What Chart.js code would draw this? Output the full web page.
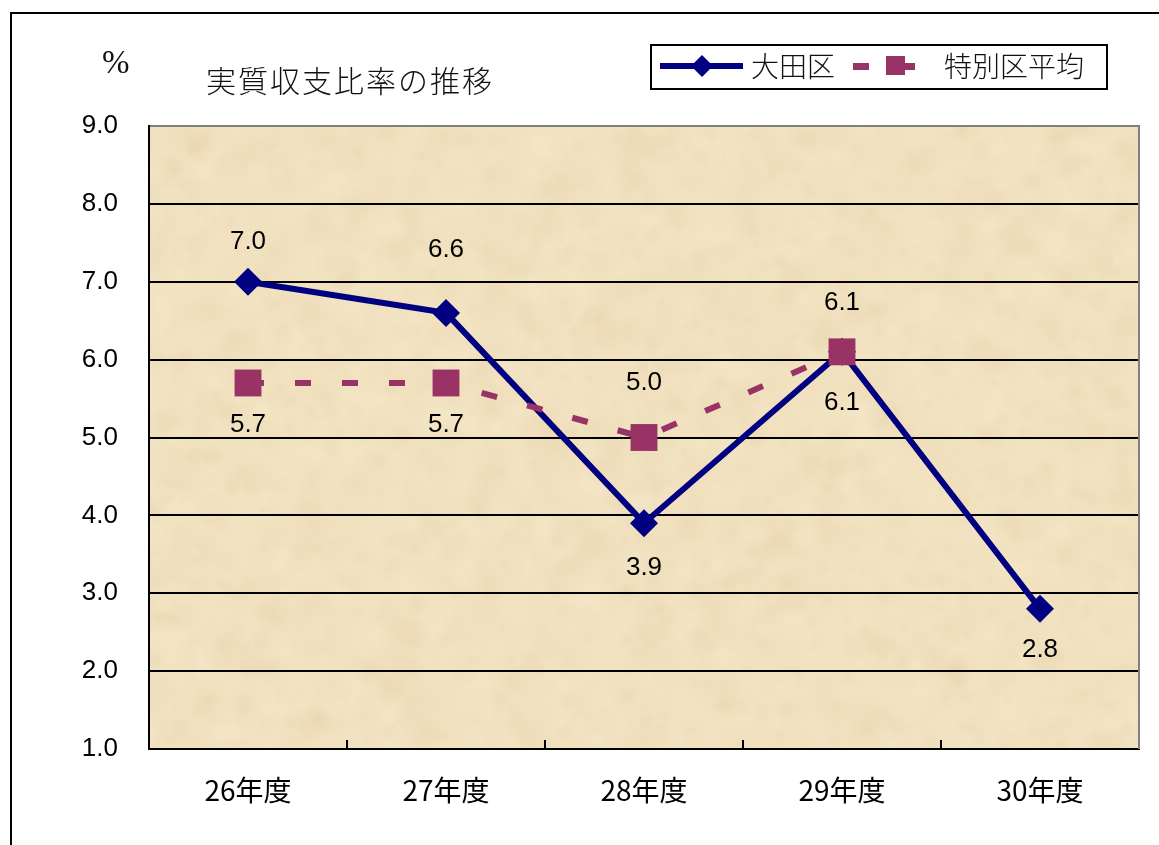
<!DOCTYPE html>
<html>
<head>
<meta charset="utf-8">
<title>実質収支比率の推移</title>
<script src="https://cdn.jsdelivr.net/npm/chart.js@4.4.1/dist/chart.umd.min.js"></script>
<style>
  html, body { margin: 0; padding: 0; background: #fff; overflow: hidden; }
  #wrap { position: relative; width: 1159px; height: 845px; }
  canvas { position: absolute; left: 0; top: 0; }
</style>
</head>
<body>
<div id="wrap"><canvas id="c" width="1159" height="845"></canvas></div>
<script>
// ---- data ----
const categories = ['26年度', '27年度', '28年度', '29年度', '30年度'];
const otaValues = [7.0, 6.6, 3.9, 6.1, 2.8];
const tokubetsukuValues = [5.7, 5.7, 5.0, 6.1];
const seriesNames = ['大田区', '特別区平均'];
const yTickMin = 1.0;
const yTickMax = 9.0;
const yTickStep = 1.0;
const titleText = '実質収支比率の推移';
const unitText = '%';

// ---- label placement (pixel offsets from each point) ----
const otaLabelOffsets = [-40, -63, 45, -49, 41];
const tokuLabelOffsets = [42, 42, -55, 51];

const NAVY = '#000080';
const PLUM = '#993366';
const NUM_FONT = '"Liberation Sans", Arial, sans-serif';
const JP_FONT = '"Noto Sans CJK JP", "Noto Sans", sans-serif';

// parchment texture for the plot area
function makeParchment(w, h) {
  const cv = document.createElement('canvas');
  cv.width = w; cv.height = h;
  const g = cv.getContext('2d');
  g.fillStyle = '#F1E1BF';
  g.fillRect(0, 0, w, h);
  let s = 1234567;
  const rnd = () => { s = (s * 1103515245 + 12345) & 0x7fffffff; return s / 0x7fffffff; };
  for (let i = 0; i < 5000; i++) {
    const x = rnd() * w, y = rnd() * h;
    const r = 4 + rnd() * 20;
    const light = rnd() < 0.6;
    const a = 0.04 + rnd() * 0.09;
    const grad = g.createRadialGradient(x, y, 0, x, y, r);
    const c = light ? '251,240,212' : '218,194,150';
    grad.addColorStop(0, 'rgba(' + c + ',' + a + ')');
    grad.addColorStop(1, 'rgba(' + c + ',0)');
    g.fillStyle = grad;
    g.beginPath();
    g.ellipse(x, y, r * (0.8 + rnd() * 0.8), r * (0.5 + rnd() * 0.6), rnd() * Math.PI, 0, Math.PI * 2);
    g.fill();
  }
  return cv;
}

const decorPlugin = {
  id: 'decor',
  beforeDraw(chart) {
    const { ctx, chartArea: a } = chart;
    ctx.save();
    ctx.fillStyle = '#fff';
    ctx.fillRect(0, 0, chart.width, chart.height);
    // outer frame
    ctx.strokeStyle = '#000';
    ctx.lineWidth = 2;
    ctx.strokeRect(11, 13, chart.width + 20, chart.height + 20);
    // plot background
    if (!chart.$parch) chart.$parch = makeParchment(Math.ceil(a.right - a.left), Math.ceil(a.bottom - a.top));
    ctx.drawImage(chart.$parch, a.left, a.top);
    ctx.restore();
  },
  beforeDatasetsDraw(chart) {
    const { ctx, chartArea: a } = chart;
    const xs = chart.scales.x;
    ctx.save();
    // right edge of plot
    ctx.strokeStyle = '#808080';
    ctx.lineWidth = 2;
    ctx.beginPath();
    ctx.moveTo(a.right, a.top - 1);
    ctx.lineTo(a.right, a.bottom);
    ctx.stroke();
    // category separators on the x axis, pointing inward
    ctx.strokeStyle = '#000';
    ctx.lineWidth = 2;
    for (let i = 0; i < categories.length - 1; i++) {
      const xm = Math.round((xs.getPixelForValue(i) + xs.getPixelForValue(i + 1)) / 2);
      ctx.beginPath();
      ctx.moveTo(xm, a.bottom - 9);
      ctx.lineTo(xm, a.bottom);
      ctx.stroke();
    }
    ctx.restore();
  },
  afterDatasetsDraw(chart) {
    const { ctx } = chart;
    ctx.save();
    ctx.fillStyle = '#000';
    ctx.font = '26px ' + NUM_FONT;
    ctx.textAlign = 'center';
    ctx.textBaseline = 'middle';
    const offs = [otaLabelOffsets, tokuLabelOffsets];
    const vals = [otaValues, tokubetsukuValues];
    for (let d = 0; d < 2; d++) {
      const meta = chart.getDatasetMeta(d);
      meta.data.forEach((pt, j) => {
        ctx.fillText(vals[d][j].toFixed(1), pt.x, pt.y + offs[d][j]);
      });
    }
    ctx.restore();
  },
  afterDraw(chart) {
    const { ctx } = chart;
    ctx.save();
    // unit and title
    ctx.fillStyle = '#111';
    ctx.textBaseline = 'middle';
    ctx.textAlign = 'left';
    ctx.font = '33px "Liberation Serif", "DejaVu Serif", serif';
    ctx.fillText(unitText, 102, 64);
    ctx.font = '300 30px ' + JP_FONT;
    ctx.letterSpacing = '2px';
    ctx.fillText(titleText, 206, 81);
    ctx.letterSpacing = '0px';

    // legend box
    ctx.strokeStyle = '#000';
    ctx.lineWidth = 2;
    ctx.fillStyle = '#fff';
    ctx.fillRect(651, 45, 456, 44);
    ctx.strokeRect(651, 45, 456, 44);
    const ly = 66;
    // 大田区 sample
    ctx.strokeStyle = NAVY;
    ctx.lineWidth = 6;
    ctx.beginPath();
    ctx.moveTo(660, ly); ctx.lineTo(743, ly);
    ctx.stroke();
    ctx.fillStyle = NAVY;
    ctx.beginPath();
    ctx.moveTo(702, ly - 11); ctx.lineTo(713, ly); ctx.lineTo(702, ly + 11); ctx.lineTo(691, ly);
    ctx.closePath(); ctx.fill();
    // 特別区平均 sample
    ctx.fillStyle = PLUM;
    ctx.fillRect(853, ly - 3, 16, 7);
    ctx.fillRect(886, ly - 10, 19, 19);
    ctx.fillRect(905, ly - 3, 10, 7);
    // legend text
    ctx.fillStyle = '#111';
    ctx.font = '300 28px ' + JP_FONT;
    ctx.textAlign = 'left';
    ctx.fillText(seriesNames[0], 751, ly);
    ctx.fillText(seriesNames[1], 944, ly);
    ctx.restore();
  }
};

new Chart(document.getElementById('c'), {
  type: 'line',
  data: {
    labels: categories,
    datasets: [
      {
        label: seriesNames[0],
        data: otaValues,
        borderColor: NAVY,
        backgroundColor: NAVY,
        borderWidth: 6,
        tension: 0,
        fill: false,
        pointStyle: 'rectRot',
        pointRadius: 14,
        pointBorderWidth: 0,
        pointBackgroundColor: NAVY,
        order: 1
      },
      {
        label: seriesNames[1],
        data: tokubetsukuValues,
        borderColor: PLUM,
        backgroundColor: PLUM,
        borderWidth: 6,
        borderDash: [16, 31],
        borderCapStyle: 'butt',
        tension: 0,
        fill: false,
        pointStyle: 'rect',
        pointRadius: 19,
        pointBorderWidth: 0,
        pointBackgroundColor: PLUM,
        order: 0
      }
    ]
  },
  options: {
    responsive: false,
    animation: false,
    events: [],
    layout: { padding: { left: 0, top: 126, right: 20, bottom: 0 } },
    plugins: {
      legend: { display: false },
      title: { display: false },
      tooltip: { enabled: false }
    },
    scales: {
      x: {
        type: 'category',
        offset: true,
        grid: { display: false, drawTicks: false },
        border: { display: true, color: '#000', width: 2 },
        ticks: {
          color: '#000',
          padding: 25,
          font: { family: JP_FONT, size: 28 }
        },
        afterFit(s) { s.height = 96; }
      },
      y: {
        min: yTickMin,
        max: yTickMax,
        grid: {
          color: (c) => (c.tick && c.tick.value === yTickMax ? '#808080' : '#000'),
          lineWidth: 2,
          drawTicks: false
        },
        border: { display: true, color: '#000', width: 2 },
        ticks: {
          stepSize: yTickStep,
          padding: 31,
          color: '#000',
          font: { family: NUM_FONT, size: 26 },
          callback: (v) => Number(v).toFixed(1)
        },
        afterFit(s) { s.width = 149; }
      }
    }
  },
  plugins: [decorPlugin]
});
</script>
</body>
</html>
